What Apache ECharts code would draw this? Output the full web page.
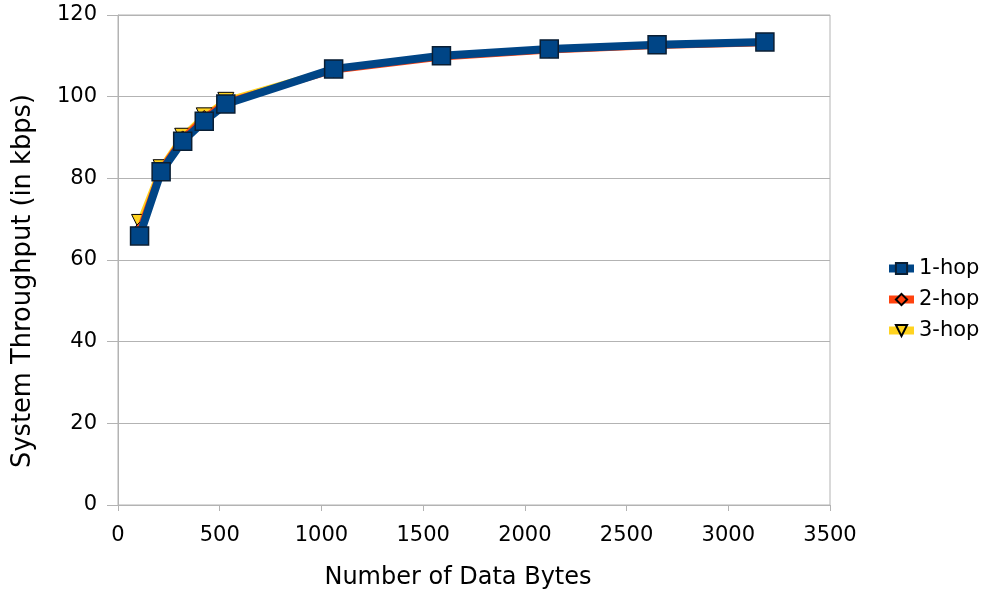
<!DOCTYPE html>
<html><head><meta charset="utf-8">
<script src="https://cdn.jsdelivr.net/npm/echarts@6/dist/echarts.min.js"></script>
<style>html,body{margin:0;padding:0;background:#fff}#c{width:984px;height:590px}</style>
</head><body><div id="c"></div>
<script>
const bytes = [106, 212, 318, 424, 530, 1060, 1590, 2120, 2650, 3180];
const hop1 = [65.9, 81.6, 89.1, 94.0, 98.2, 106.8, 110.0, 111.7, 112.7, 113.4];
const hop2 = [67.5, 82.3, 89.9, 94.9, 98.7, 106.4, 109.6, 111.3, 112.4, 113.1];
const hop3 = [69.2, 82.6, 90.3, 95.3, 99.1, 106.7, 109.8, 111.5, 112.5, 113.2];
const seriesNames = ['1-hop', '2-hop', '3-hop'];
const seriesColors = ['#004586', '#ff420e', '#ffd320'];

const pairs = v => bytes.map((b, i) => [b, v[i]]);
const font = 'DejaVu Sans';
const chart = echarts.init(document.getElementById('c'), null, {renderer: 'canvas'});
chart.setOption({
  animation: false,
  textStyle: {fontFamily: font},
  grid: {left: 118, right: 154, top: 15, bottom: 85, show: true, borderColor: '#b3b3b3', borderWidth: 1,
         containLabel: false, outerBoundsMode: 'none'},
  legend: {
    orient: 'vertical', left: 885, top: 258, padding: 0, itemGap: 10, itemWidth: 25, itemHeight: 14,
    textStyle: {fontSize: 21, color: '#000', fontFamily: font},
    data: seriesNames.map((n, i) => ({name: n, lineStyle: {width: 8, color: seriesColors[i]}}))
  },
  xAxis: {
    type: 'value', min: 0, max: 3500, interval: 500,
    name: 'Number of Data Bytes', nameLocation: 'middle', nameGap: 61,
    nameTextStyle: {fontSize: 24, color: '#000', fontFamily: font, padding: [0, 32, 0, 0]},
    axisLine: {lineStyle: {color: '#b3b3b3'}},
    axisTick: {show: true, length: 6, lineStyle: {color: '#b3b3b3'}},
    axisLabel: {fontSize: 21, color: '#000', margin: 20, fontFamily: font, formatter: v => String(v)},
    splitLine: {show: false}
  },
  yAxis: {
    type: 'value', min: 0, max: 120, interval: 20,
    name: 'System Throughput (in kbps)', nameLocation: 'middle', nameGap: 82, nameRotate: 90,
    nameTextStyle: {fontSize: 25.7, color: '#000', fontFamily: font, padding: [0, 42, 0, 0]},
    axisLine: {show: true, lineStyle: {color: '#b3b3b3'}},
    axisTick: {show: true, length: 11, lineStyle: {color: '#b3b3b3'}},
    axisLabel: {fontSize: 21, color: '#000', margin: 21, fontFamily: font},
    splitLine: {show: true, lineStyle: {color: '#b3b3b3'}}
  },
  series: [
    {name: '3-hop', type: 'line', data: pairs(hop3), z: 2, color: seriesColors[2],
     lineStyle: {width: 6, color: seriesColors[2]}, symbol: 'triangle', symbolRotate: 180, symbolSize: 16,
     itemStyle: {color: seriesColors[2], borderColor: '#000', borderWidth: 1}},
    {name: '2-hop', type: 'line', data: pairs(hop2), z: 3, color: seriesColors[1],
     lineStyle: {width: 6, color: seriesColors[1]}, symbol: 'diamond', symbolSize: 14,
     itemStyle: {color: seriesColors[1], borderColor: '#000', borderWidth: 1}},
    {name: '1-hop', type: 'line', data: pairs(hop1), z: 4, color: seriesColors[0],
     lineStyle: {width: 8, color: seriesColors[0]}, symbol: 'rect', symbolSize: 18,
     itemStyle: {color: seriesColors[0], borderColor: '#0a1e33', borderWidth: 1.5}}
  ]
});
</script></body></html>
